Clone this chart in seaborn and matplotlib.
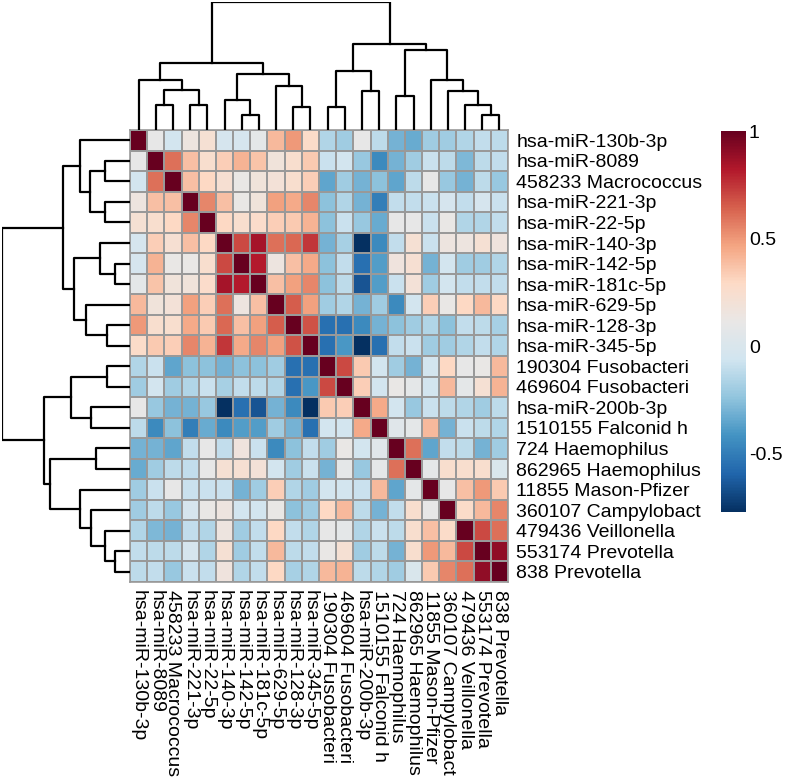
import numpy as np
import pandas as pd
import matplotlib
matplotlib.use('Agg')
import matplotlib.pyplot as plt
import seaborn as sns
from matplotlib.colors import LinearSegmentedColormap

labels = ['hsa-miR-130b-3p', 'hsa-miR-8089', '458233 Macrococcus', 'hsa-miR-221-3p',
          'hsa-miR-22-5p', 'hsa-miR-140-3p', 'hsa-miR-142-5p', 'hsa-miR-181c-5p',
          'hsa-miR-629-5p', 'hsa-miR-128-3p', 'hsa-miR-345-5p', '190304 Fusobacteri',
          '469604 Fusobacteri', 'hsa-miR-200b-3p', '1510155 Falconid h', '724 Haemophilus',
          '862965 Haemophilus', '11855 Mason-Pfizer', '360107 Campylobact', '479436 Veillonella',
          '553174 Prevotella', '838 Prevotella']

# upper triangle of the correlation matrix, one list per row (right of the diagonal)
upper = [
    [0.1, -0.05, 0.15, 0.22, -0.03, -0.03, 0.08, 0.4, 0.5, 0.28, -0.15, -0.2, 0.1, -0.12, -0.3, -0.33, -0.2, -0.2, -0.15, -0.1, -0.12],
    [0.6, 0.38, 0.25, 0.33, 0.42, 0.37, 0.18, 0.25, 0.35, -0.08, -0.05, -0.22, -0.45, -0.3, -0.2, -0.08, -0.12, -0.28, -0.12, -0.1],
    [0.38, 0.3, 0.23, 0.12, 0.18, 0.2, 0.25, 0.33, -0.35, -0.2, -0.3, -0.25, -0.35, -0.12, 0.1, -0.22, -0.3, -0.12, -0.22],
    [0.55, 0.38, 0.12, 0.18, 0.48, 0.45, 0.55, -0.25, -0.15, -0.3, -0.5, -0.1, -0.1, -0.08, -0.03, -0.1, -0.03, -0.08],
    [0.3, 0.25, 0.27, 0.33, 0.35, 0.42, -0.25, -0.08, -0.22, -0.33, 0.1, 0.1, -0.08, 0.12, -0.15, -0.15, -0.1],
    [0.7, 0.85, 0.6, 0.62, 0.75, -0.3, -0.18, -0.77, -0.45, -0.1, 0.22, -0.08, 0.15, 0.15, 0.22, 0.17],
    [0.82, 0.15, 0.38, 0.45, -0.25, -0.1, -0.55, -0.38, 0.17, 0.23, -0.3, -0.05, -0.2, -0.2, -0.15],
    [0.38, 0.48, 0.55, -0.25, -0.12, -0.65, -0.38, -0.08, 0.2, -0.2, -0.05, -0.1, -0.1, -0.1],
    [0.65, 0.48, -0.2, -0.15, -0.3, -0.2, -0.45, -0.05, 0.33, 0.12, 0.3, 0.4, 0.3],
    [0.68, -0.55, -0.55, -0.45, -0.3, -0.25, -0.2, -0.15, -0.25, -0.1, -0.12, -0.18],
    [-0.55, -0.4, -0.77, -0.55, -0.1, -0.08, -0.2, -0.2, -0.15, -0.1, -0.15],
    [0.7, 0.35, -0.05, -0.2, -0.3, -0.05, 0.3, 0.1, 0.12, 0.4],
    [0.33, -0.05, 0.12, 0.08, -0.05, 0.4, 0.08, 0.22, 0.42],
    [0.45, -0.05, -0.22, -0.08, -0.12, -0.15, -0.2, -0.12],
    [0.05, 0.08, 0.4, -0.3, -0.08, -0.12, -0.15],
    [0.6, -0.35, -0.1, -0.12, -0.3, -0.2],
    [0.08, 0.25, 0.25, 0.25, 0.0],
    [0.1, 0.38, 0.5, 0.35],
    [0.28, 0.4, 0.55],
    [0.7, 0.6],
    [0.9],
]

# hierarchical clustering merges: (child a, child b, height); ids >= 22 are earlier merges
merges = [
    (1, 2, 75), (3, 4, 75), (22, 23, 122), (0, 24, 150),
    (6, 7, 45), (5, 26, 92), (9, 10, 68), (8, 28, 132), (27, 29, 168), (25, 30, 202),
    (11, 12, 68), (13, 14, 118), (32, 33, 177), (15, 16, 102),
    (20, 21, 44), (19, 36, 75), (18, 37, 118), (17, 38, 150), (35, 39, 240),
    (34, 40, 260), (31, 41, 385),
]

n = len(labels)
mat = np.eye(n)
for i, row in enumerate(upper):
    for k, v in enumerate(row):
        mat[i, i + 1 + k] = v
        mat[i + 1 + k, i] = v
df = pd.DataFrame(mat, index=labels, columns=labels)

plt.rcParams['font.family'] = ['Liberation Sans', 'DejaVu Sans']

W, H = 789, 778
fig = plt.figure(figsize=(W / 100, H / 100), dpi=100)
ax = fig.add_axes([130 / W, 1 - 582 / H, 378 / W, 452 / H])
axt = fig.add_axes([130 / W, 1 - 130 / H, 378 / W, 128 / H])
axl = fig.add_axes([2 / W, 1 - 582 / H, 128 / W, 452 / H])
cax = fig.add_axes([721 / W, 1 - 512 / H, 25 / W, 381 / H])

rdbu = ['#053061', '#2166AC', '#4393C3', '#92C5DE', '#D1E5F0', '#E9E7E6',
        '#FDDBC7', '#F4A582', '#D6604D', '#B2182B', '#67001F']
cmap = LinearSegmentedColormap.from_list('rdbu', rdbu, N=256)

sns.heatmap(df, ax=ax, cbar_ax=cax, cmap=cmap, vmin=-0.77, vmax=1,
            linewidths=1.2, linecolor='#999999')
for s in ax.spines.values():
    s.set_visible(True)
    s.set_color('#999999')
    s.set_linewidth(1.2)
ax.yaxis.tick_right()
ax.set_yticks(np.arange(n) + 0.5)
ax.set_yticklabels(labels, rotation=0, fontsize=14)
ax.set_xticks(np.arange(n) + 0.5)
ax.set_xticklabels(labels, rotation=270, fontsize=14)
ax.tick_params(length=0, pad=6)
ax.set_xlabel('')
ax.set_ylabel('')

cbar = ax.collections[0].colorbar
cbar.outline.set_visible(False)
cbar.set_ticks([-0.5, 0, 0.5, 1])
cbar.set_ticklabels(['-0.5', '0', '0.5', '1'])
cax.tick_params(length=0, labelsize=14, pad=2)

# dendrograms
pos = {i: i + 0.5 for i in range(n)}
hgt = {i: 0 for i in range(n)}
for k, (a, b, h) in enumerate(merges):
    c = n + k
    xs = [pos[a], pos[a], pos[b], pos[b]]
    ys = [hgt[a], h, h, hgt[b]]
    axt.plot(xs, ys, color='black', lw=1.6, solid_capstyle='projecting')
    axl.plot(ys, xs, color='black', lw=1.6, solid_capstyle='projecting')
    pos[c] = (pos[a] + pos[b]) / 2
    hgt[c] = h

top = merges[-1][2]
axt.set_xlim(0, n)
axt.set_ylim(0, top * 1.003)
axl.set_ylim(n, 0)
axl.set_xlim(top * 1.003, 0)
for a in (axt, axl):
    a.axis('off')

fig.savefig('out.png', dpi=100)
